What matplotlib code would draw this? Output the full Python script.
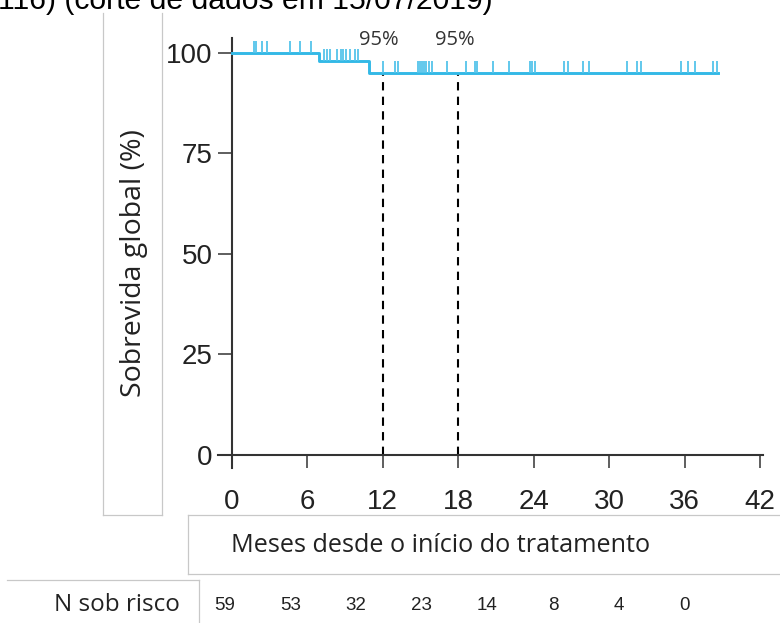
import matplotlib
matplotlib.use("Agg")
import matplotlib.pyplot as plt
from matplotlib.lines import Line2D

W, H = 780, 623

# dados da curva (Kaplan-Meier)
event_times = [6.95, 10.93]
surv_after = [98.0, 95.0]
end_time = 38.7
censor_times = [1.75, 1.9, 2.36, 2.76, 4.6, 5.46, 6.3,
                7.34, 7.53, 7.8, 8.33, 8.65, 8.86, 9.07, 9.39, 9.79, 10.05,
                12.04, 12.97, 13.18, 14.82, 14.96, 15.09, 15.27, 15.43, 15.64, 15.88,
                17.08, 18.6, 19.3, 19.47, 20.79, 22.06, 23.71, 23.9, 24.08,
                26.44, 26.76, 27.9, 28.43, 31.4, 32.2, 32.5, 35.7, 36.3, 36.8,
                38.3, 38.6]
landmarks = [12, 18]
landmark_labels = ["95%", "95%"]
x_ticks = [0, 6, 12, 18, 24, 30, 36, 42]
y_ticks = [0, 25, 50, 75, 100]
n_at_risk = [59, 53, 32, 23, 14, 8, 4, 0]

title = "116) (corte de dados em 15/07/2019)"
ylabel = "Sobrevida global (%)"
xlabel = "Meses desde o início do tratamento"

LINE = "#33b9e6"
TICK = "#55c4ea"
DARK = "#333333"
BOX = "#c8c8c8"


def px(x, y):
    return x / W, 1 - y / H


def level_at(t):
    s = 100.0
    for et, sv in zip(event_times, surv_after):
        if t >= et:
            s = sv
    return s


fig = plt.figure(figsize=(W / 100, H / 100), dpi=100)
ax = fig.add_axes([218 / W, 1 - 468 / H, (762.5 - 218) / W, (468 - 38) / H])
ax.set_xlim(-1.1, 42.2)
ax.set_ylim(-3.23, 103.7)

# curva em degraus
xs = [0] + event_times + [end_time]
ys = [100.0] + surv_after + [surv_after[-1]]
ax.plot(xs, ys, drawstyle="steps-post", color=LINE, lw=2.1, zorder=3)

# censuras
cy = [level_at(t) for t in censor_times]
ax.vlines(censor_times, cy, [v + 2.9 for v in cy], color=TICK, lw=1.3, zorder=3)

# marcos 12 e 18 meses
for xm, lab in zip(landmarks, landmark_labels):
    ax.plot([xm, xm], [0, level_at(xm)], color="black", lw=1.5,
            linestyle=(0, (4, 3)), zorder=2)
    ax.text(xm - 0.3, 103.2, lab, ha="center", va="center", fontsize=14.5,
            family="Open Sans", color=DARK)

for s in ["top", "right"]:
    ax.spines[s].set_visible(False)
ax.spines["bottom"].set_position(("data", 0))
ax.spines["left"].set_position(("data", 0))
for s in ["left", "bottom"]:
    ax.spines[s].set_color(DARK)
    ax.spines[s].set_linewidth(1.5)

ax.set_xticks(x_ticks)
ax.set_yticks(y_ticks)
ax.tick_params(axis="x", direction="out", length=9.5, width=1.1, color=DARK,
               pad=15, labelsize=20, labelcolor="#222222")
ax.tick_params(axis="y", direction="out", length=10, width=1.1, color=DARK,
               pad=4, labelsize=20, labelcolor="#222222")
for lbl in ax.get_xticklabels() + ax.get_yticklabels():
    lbl.set_family("Liberation Sans")

# caixas do layout
def seg(x0, y0, x1, y1):
    a, b = px(x0, y0)
    c, d = px(x1, y1)
    fig.add_artist(Line2D([a, c], [b, d], color=BOX, lw=0.9))

seg(102.5, 13, 102.5, 515)
seg(161.5, 13, 161.5, 515)
seg(102.5, 515, 161.5, 515)
seg(187.5, 515, 781, 515)
seg(187.5, 573.5, 781, 573.5)
seg(187.5, 515, 187.5, 573.5)
seg(7, 579.5, 198.5, 579.5)
seg(198.5, 579.5, 198.5, 624)

# textos
fig.text(*px(-2, 9), title, ha="left", va="baseline", fontsize=21.7,
         family="Liberation Sans", color="black")
fig.text(*px(134, 263), ylabel, rotation=90, ha="center", va="center",
         fontsize=20.5, family="Open Sans", color="#222222")
fig.text(*px(441, 545), xlabel, ha="center", va="center", fontsize=18.2,
         family="Open Sans", color="#222222")
fig.text(*px(180, 605), "N sob risco", ha="right", va="center", fontsize=17.5,
         family="Open Sans", color="#222222")
for i, n in enumerate(n_at_risk):
    fig.text(*px(225 + 65.6 * i, 606), str(n), ha="center", va="center",
             fontsize=13.5, family="Liberation Sans", color="#222222")

fig.savefig("out.png", dpi=100)
